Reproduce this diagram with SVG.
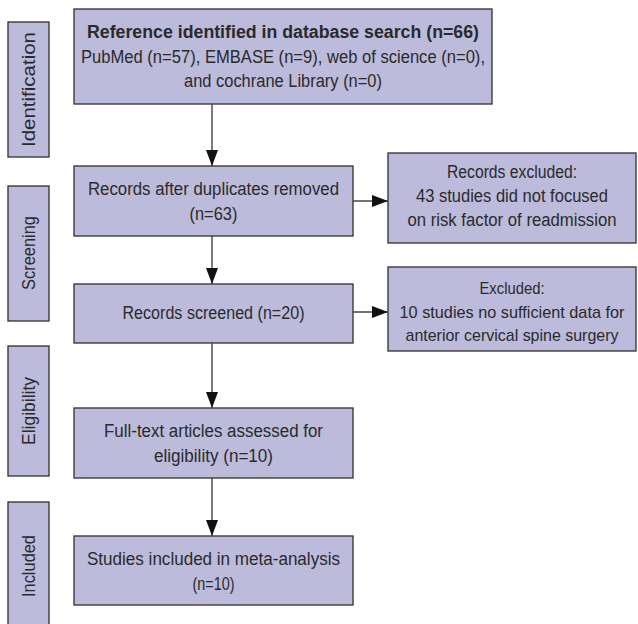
<svg xmlns="http://www.w3.org/2000/svg" width="638" height="624" viewBox="0 0 638 624">
<defs>
<style>
.box{fill:#bcbbdc;stroke:#2e2e2e;stroke-width:1.3}
.t{font-family:"Liberation Sans Narrow","Liberation Sans",Arial,sans-serif;font-size:18px;fill:#2a2a2a;text-anchor:middle}
.s{font-size:17px}
.b{font-weight:bold}
.lab{font-family:"Liberation Sans Narrow","Liberation Sans",Arial,sans-serif;font-size:18px;fill:#2a2a2a;text-anchor:middle;dominant-baseline:central}
.c{stroke:#444;stroke-width:1.4;fill:none}
</style>
<marker id="ah" viewBox="0 0 16 12" refX="16" refY="6" markerWidth="16" markerHeight="12" markerUnits="userSpaceOnUse" orient="auto">
<path d="M0,0 L16,6 L0,12 Z" fill="#111"/>
</marker>
</defs>
<rect width="638" height="624" fill="#fff"/>

<g id="stage-identification">
<rect class="box" x="8" y="22" width="41" height="135"/>
<text class="lab" transform="translate(29,89.5) rotate(-90)" textLength="115" lengthAdjust="spacingAndGlyphs">Identification</text>
</g>
<g id="stage-screening">
<rect class="box" x="8" y="186" width="41" height="135"/>
<text class="lab" transform="translate(29,253) rotate(-90)" textLength="74" lengthAdjust="spacingAndGlyphs">Screening</text>
</g>
<g id="stage-eligibility">
<rect class="box" x="8" y="346" width="41" height="130"/>
<text class="lab" transform="translate(29,411) rotate(-90)" textLength="68" lengthAdjust="spacingAndGlyphs">Eligibility</text>
</g>
<g id="stage-included">
<rect class="box" x="8" y="502" width="41" height="130"/>
<text class="lab" transform="translate(29,566) rotate(-90)" textLength="62" lengthAdjust="spacingAndGlyphs">Included</text>
</g>

<g id="n-identified">
<rect class="box" x="74" y="9" width="418" height="95"/>
<text class="t b" x="283" y="38" textLength="392" lengthAdjust="spacingAndGlyphs">Reference identified in database search (n=66)</text>
<text class="t" x="283" y="63" textLength="404" lengthAdjust="spacingAndGlyphs">PubMed (n=57), EMBASE (n=9), web of science (n=0),</text>
<text class="t" x="283" y="87" textLength="198" lengthAdjust="spacingAndGlyphs">and cochrane Library (n=0)</text>
</g>
<g id="n-duplicates">
<rect class="box" x="74" y="166" width="279" height="70"/>
<text class="t" x="213.5" y="195" textLength="251" lengthAdjust="spacingAndGlyphs">Records after duplicates removed</text>
<text class="t" x="213.5" y="220" textLength="48" lengthAdjust="spacingAndGlyphs">(n=63)</text>
</g>
<g id="n-excluded1">
<rect class="box" x="388" y="153" width="248" height="90"/>
<text class="t" x="512" y="178" textLength="130" lengthAdjust="spacingAndGlyphs">Records excluded:</text>
<text class="t" x="512" y="202" textLength="192" lengthAdjust="spacingAndGlyphs">43 studies did not focused</text>
<text class="t" x="512" y="226" textLength="209" lengthAdjust="spacingAndGlyphs">on risk factor of readmission</text>
</g>
<g id="n-screened">
<rect class="box" x="74" y="284" width="279" height="59"/>
<text class="t" x="213.5" y="319" textLength="182" lengthAdjust="spacingAndGlyphs">Records screened (n=20)</text>
</g>
<g id="n-excluded2">
<rect class="box" x="388" y="267" width="248" height="84"/>
<text class="t s" x="512" y="294" textLength="65" lengthAdjust="spacingAndGlyphs">Excluded:</text>
<text class="t s" x="512" y="318" textLength="225" lengthAdjust="spacingAndGlyphs">10 studies no sufficient data for</text>
<text class="t s" x="512" y="341" textLength="213" lengthAdjust="spacingAndGlyphs">anterior cervical spine surgery</text>
</g>
<g id="n-fulltext">
<rect class="box" x="74" y="408" width="279" height="70"/>
<text class="t" x="213.5" y="437" textLength="219" lengthAdjust="spacingAndGlyphs">Full-text articles assessed for</text>
<text class="t" x="213.5" y="462" textLength="119" lengthAdjust="spacingAndGlyphs">eligibility (n=10)</text>
</g>
<g id="n-included">
<rect class="box" x="74" y="536" width="279" height="69"/>
<text class="t" x="213.5" y="565" textLength="253" lengthAdjust="spacingAndGlyphs">Studies included in meta-analysis</text>
<text class="t" x="213.5" y="590" textLength="42" lengthAdjust="spacingAndGlyphs">(n=10)</text>
</g>

<g id="connectors">
<line class="c" x1="212" y1="104" x2="212" y2="166" marker-end="url(#ah)"/>
<line class="c" x1="212" y1="236" x2="212" y2="284" marker-end="url(#ah)"/>
<line class="c" x1="212" y1="343" x2="212" y2="408" marker-end="url(#ah)"/>
<line class="c" x1="212" y1="478" x2="212" y2="536" marker-end="url(#ah)"/>
<line class="c" x1="353" y1="201" x2="388" y2="201" marker-end="url(#ah)"/>
<line class="c" x1="353" y1="312" x2="388" y2="312" marker-end="url(#ah)"/>
</g>
</svg>
